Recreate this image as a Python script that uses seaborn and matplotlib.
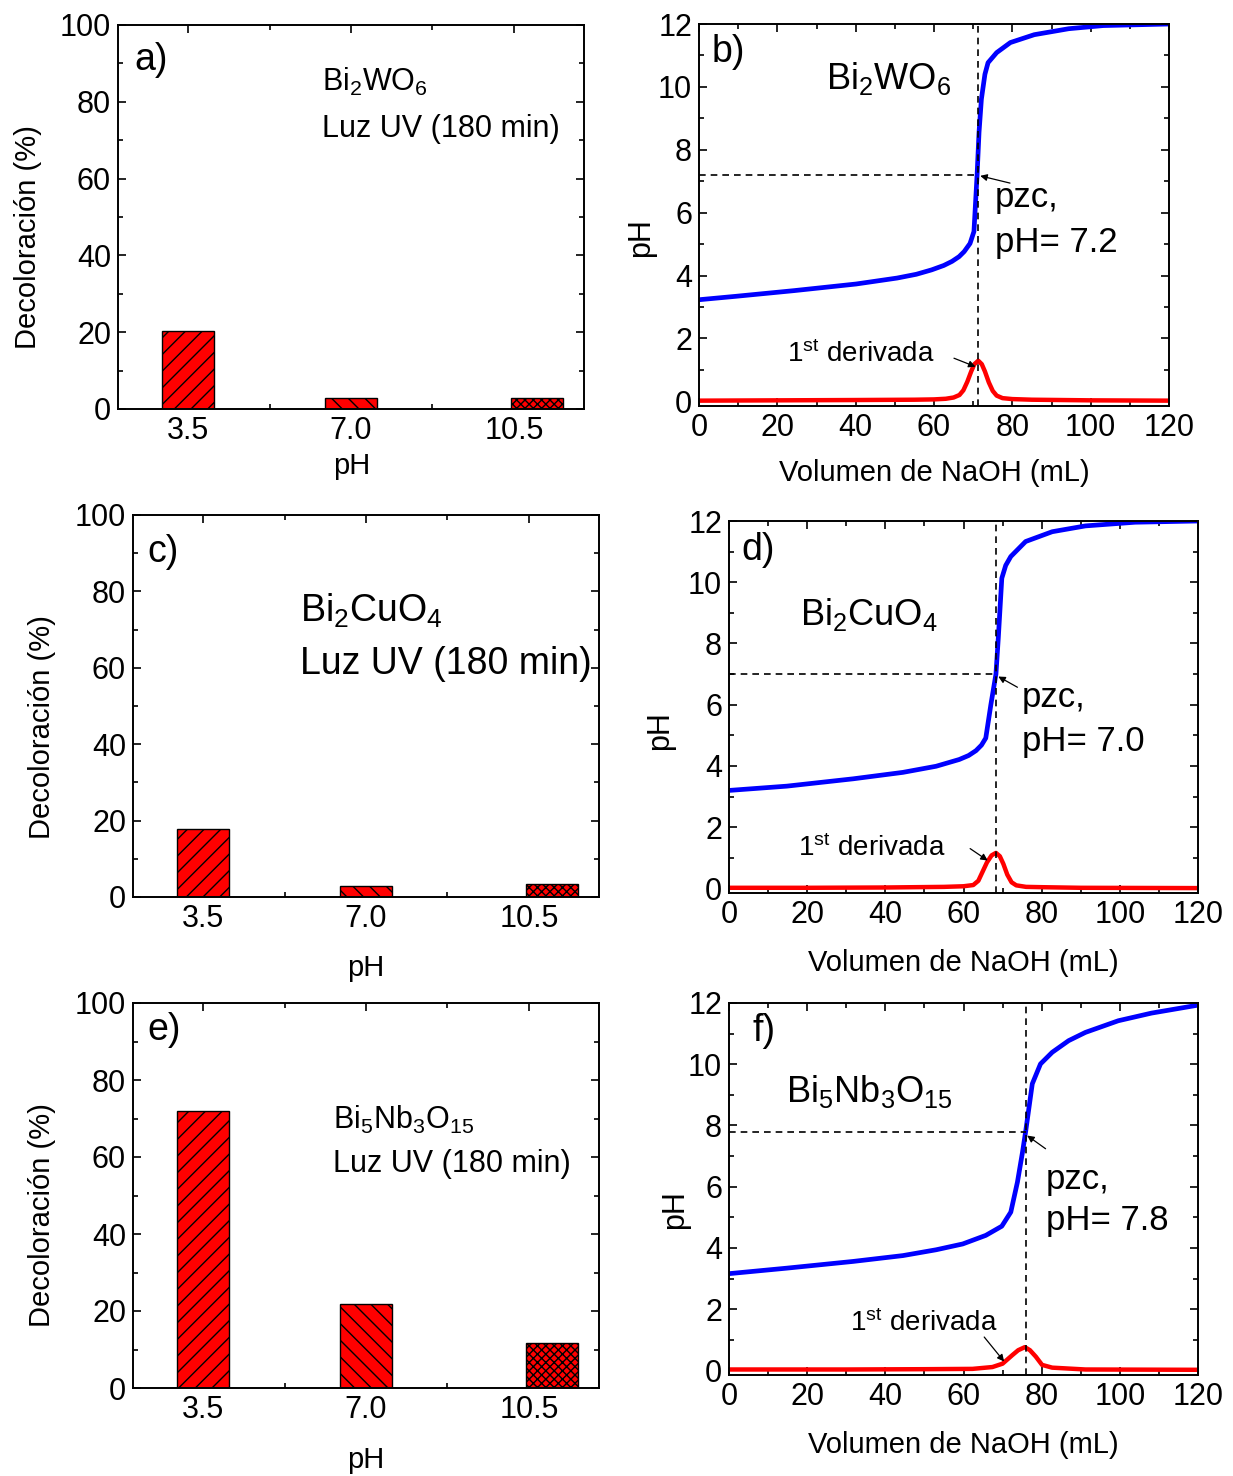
import numpy as np
import pandas as pd
import seaborn as sns
import matplotlib
matplotlib.use("Agg")
import matplotlib.pyplot as plt
from matplotlib.ticker import MultipleLocator

# ---------------- data ----------------
ph_categories = ["3.5", "7.0", "10.5"]

decol_bi2wo6 = [20.3, 2.9, 2.8]
decol_bi2cuo4 = [17.8, 2.9, 3.4]
decol_bi5nb3o15 = [72.0, 21.8, 11.7]

# titration curves: Bi2WO6
vol_bi2wo6 = [0, 9.5, 24.3, 40.1, 50.6, 55.5, 59.4, 62.5, 64.6, 66.4, 67.7, 69.2, 70.2,
              71.0, 71.5, 72.1, 73.0, 73.8, 76.0, 79.5, 85.6, 94.4, 103.2, 120]
ph_bi2wo6 = [3.23, 3.34, 3.52, 3.73, 3.92, 4.04, 4.18, 4.32, 4.45, 4.6, 4.76, 5.02,
             5.40, 7.2, 8.56, 9.61, 10.4, 10.77, 11.09, 11.41, 11.66, 11.85, 11.95, 12.0]
dvol_bi2wo6 = [0, 20, 40, 55, 60, 63, 65, 66.5, 67.5, 68.5, 69.5, 70.3, 71.3, 72.2,
               73.0, 74.0, 75.0, 76.0, 77.5, 80, 85, 100, 120]
deriv_bi2wo6 = [0.02, 0.03, 0.04, 0.05, 0.06, 0.08, 0.12, 0.2, 0.35, 0.62, 0.95, 1.18,
                1.29, 1.18, 0.95, 0.6, 0.33, 0.18, 0.1, 0.07, 0.05, 0.03, 0.02]

# titration curves: Bi2CuO4
vol_bi2cuo4 = [0, 14.8, 31.8, 44.5, 53, 58.9, 61.3, 63.2, 64.6, 65.7, 67.0, 68.3, 68.9,
               69.8, 70.8, 72.1, 75.9, 82.7, 91.2, 103.9, 120]
ph_bi2cuo4 = [3.2, 3.34, 3.58, 3.79, 3.99, 4.21, 4.34, 4.5, 4.68, 4.91, 6.0, 7.0, 8.17,
              10.13, 10.55, 10.84, 11.33, 11.65, 11.84, 11.96, 12.0]
dvol_bi2cuo4 = [0, 20, 40, 55, 60, 62.5, 63.8, 64.9, 66.0, 67.2, 68.3, 69.3, 70.2,
                71.2, 72.3, 73.5, 76, 80, 90, 120]
deriv_bi2cuo4 = [0.02, 0.02, 0.03, 0.05, 0.07, 0.11, 0.25, 0.55, 0.85, 1.08, 1.16,
                 1.05, 0.8, 0.45, 0.2, 0.1, 0.05, 0.04, 0.02, 0.01]

# titration curves: Bi5Nb3O15
vol_bi5nb3o15 = [0, 14.8, 31.8, 44.5, 53, 59.8, 65.7, 69.8, 72.1, 73.8, 75.1, 75.9,
                 77.6, 79.7, 82.7, 86.9, 91.2, 99.6, 108.1, 120]
ph_bi5nb3o15 = [3.16, 3.34, 3.56, 3.75, 3.94, 4.13, 4.41, 4.71, 5.17, 6.15, 7.13, 7.8,
                9.36, 10.01, 10.39, 10.77, 11.04, 11.42, 11.67, 11.93]
dvol_bi5nb3o15 = [0, 30, 50, 62.3, 67.4, 70.0, 72.5, 74.0, 75.7, 77.0, 78.5, 80.1,
                  82.7, 91.2, 120]
deriv_bi5nb3o15 = [0.03, 0.03, 0.04, 0.05, 0.11, 0.22, 0.5, 0.66, 0.76, 0.66, 0.45,
                   0.18, 0.09, 0.03, 0.02]

pzc_values = [7.2, 7.0, 7.8]
pzc_volumes = [71.3, 68.4, 75.9]

# ---------------- style ----------------
sns.set_theme(style="ticks")
plt.rcParams["font.family"] = ["Liberation Sans", "DejaVu Sans"]
plt.rcParams["mathtext.default"] = "regular"
plt.rcParams["hatch.linewidth"] = 1.0
plt.rcParams["axes.linewidth"] = 1.4
plt.rcParams["axes.edgecolor"] = "black"
plt.rcParams["text.color"] = "black"
plt.rcParams["axes.labelcolor"] = "black"
plt.rcParams["xtick.color"] = "black"
plt.rcParams["ytick.color"] = "black"

W, H = 1233, 1476
fig = plt.figure(figsize=(W / 100, H / 100), dpi=100)


def add_axes(left, top, right, bottom):
    return fig.add_axes([left / W, 1 - bottom / H, (right - left) / W, (bottom - top) / H])


def style_ticks(ax, fs=22):
    ax.tick_params(which="both", direction="in", top=True, right=True,
                   colors="black", labelcolor="black", labelsize=fs, pad=5, width=1.2)
    ax.tick_params(which="major", length=6)
    ax.tick_params(which="minor", length=3.5)
    for s in ax.spines.values():
        s.set_linewidth(1.4)
        s.set_color("black")


def bar_panel(ax, values, letter, formula, ftxt_pos, luz_pos, fs_txt, lab_pos):
    df = pd.DataFrame({"pH": ph_categories, "val": values})
    sns.barplot(data=df, x="pH", y="val", order=ph_categories, ax=ax, color="red",
                saturation=1, width=0.32, edgecolor="black", linewidth=1.0)
    hatches = ["//", "\\\\", "xxxx"]
    for p, h in zip(ax.patches, hatches):
        p.set_hatch(h)
        p.set_facecolor("red")
        p.set_edgecolor("black")
    # third bar sits to the right of its tick
    ax.patches[2].set_x(ax.patches[2].get_x() + 0.14)
    ax.set_xlim(-0.43, 2.43)
    ax.set_ylim(0, 100)
    ax.yaxis.set_major_locator(MultipleLocator(20))
    ax.yaxis.set_minor_locator(MultipleLocator(10))
    ax.xaxis.set_minor_locator(MultipleLocator(0.5))
    style_ticks(ax)
    ax.set_xlabel("pH", fontsize=21)
    ax.set_ylabel("Decoloración (%)", fontsize=21)
    ax.xaxis.label.set_va("center")
    ax.yaxis.label.set_va("center")
    ax.xaxis.set_label_coords(*lab_pos[0])
    ax.yaxis.set_label_coords(*lab_pos[1])
    ax.text(letter[1], letter[2], letter[0], transform=ax.transAxes, fontsize=27,
            ha="left", va="center")
    ax.text(ftxt_pos[0], ftxt_pos[1], formula, transform=ax.transAxes, fontsize=fs_txt,
            ha="left", va="center")
    ax.text(luz_pos[0], luz_pos[1], "Luz UV (180 min)", transform=ax.transAxes,
            fontsize=fs_txt, ha="left", va="center")


def titration_panel(ax, vol, ph, dvol, deriv, pzc_v, pzc_ph, letter, formula, txt,
                    arrows, lab_pos):
    sns.lineplot(x=vol, y=ph, ax=ax, color="#0000ff", lw=3.4, sort=False,
                 estimator=None)
    sns.lineplot(x=dvol, y=deriv, ax=ax, color="#ff0000", lw=3.2, sort=False,
                 estimator=None)
    ax.axvline(pzc_v, color="black", lw=1.2, ls=(0, (4, 3)), zorder=3)
    ax.plot([0, pzc_v], [pzc_ph, pzc_ph], color="black", lw=1.2, ls=(0, (4, 3)),
            zorder=3)
    ax.set_xlim(0, 120)
    ax.set_ylim(-0.15, 12)
    ax.xaxis.set_major_locator(MultipleLocator(20))
    ax.xaxis.set_minor_locator(MultipleLocator(10))
    ax.yaxis.set_major_locator(MultipleLocator(2))
    ax.yaxis.set_minor_locator(MultipleLocator(1))
    style_ticks(ax)
    ax.set_xlabel("Volumen de NaOH (mL)", fontsize=21)
    ax.set_ylabel("pH", fontsize=22)
    ax.xaxis.label.set_va("center")
    ax.yaxis.label.set_va("center")
    ax.xaxis.set_label_coords(*lab_pos[0])
    ax.yaxis.set_label_coords(*lab_pos[1])
    ax.text(letter[1], letter[2], letter[0], fontsize=27, ha="left", va="center")
    ax.text(formula[1], formula[2], formula[0], fontsize=26, ha="left", va="center")
    ax.text(txt["pzc"][0], txt["pzc"][1], "pzc,", fontsize=25, ha="left", va="center")
    ax.text(txt["pzc"][0], txt["ph"], f"pH= {pzc_ph:.1f}", fontsize=25, ha="left",
            va="center")
    ax.text(txt["der"][0], txt["der"][1], "1$^{st}$ derivada", fontsize=20,
            ha="left", va="center")
    for tail, tip in arrows:
        ax.annotate("", xy=tip, xytext=tail,
                    arrowprops=dict(arrowstyle="-|>", color="black", lw=0.9,
                                    mutation_scale=10, shrinkA=0, shrinkB=0))


ax_a = add_axes(118, 25, 584, 409)
bar_panel(ax_a, decol_bi2wo6, ("a)", 0.036, 0.909), "Bi$_2$WO$_6$", (0.438, 0.852),
          (0.438, 0.729), 22, ((0.502, -0.148), (-0.193, 0.448)))

ax_c = add_axes(133, 515, 599, 897)
bar_panel(ax_c, decol_bi2cuo4, ("c)", 0.03, 0.903), "Bi$_2$CuO$_4$", (0.358, 0.749),
          (0.358, 0.61), 27, ((0.5, -0.186), (-0.195, 0.445)))

ax_e = add_axes(133, 1003, 599, 1388)
bar_panel(ax_e, decol_bi5nb3o15, ("e)", 0.03, 0.93), "Bi$_5$Nb$_3$O$_{15}$",
          (0.429, 0.696), (0.429, 0.582), 22, ((0.5, -0.187), (-0.195, 0.449)))

ax_b = add_axes(699, 24, 1169, 406)
titration_panel(ax_b, vol_bi2wo6, ph_bi2wo6, dvol_bi2wo6, deriv_bi2wo6,
                pzc_volumes[0], pzc_values[0], ("b)", 3.3, 11.1),
                ("Bi$_2$WO$_6$", 32.4, 10.27),
                {"pzc": (75.6, 6.47), "ph": 5.05, "der": (22.5, 1.5)},
                [((79.4, 6.94), (71.8, 7.17)), ((65.1, 1.37), (70.6, 1.1))],
                ((0.5, -0.175), (-0.123, 0.44)))

ax_d = add_axes(729, 521, 1198, 893)
titration_panel(ax_d, vol_bi2cuo4, ph_bi2cuo4, dvol_bi2cuo4, deriv_bi2cuo4,
                pzc_volumes[1], pzc_values[1], ("d)", 3.1, 11.06),
                ("Bi$_2$CuO$_4$", 18.2, 8.95),
                {"pzc": (75.0, 6.25), "ph": 4.8, "der": (17.6, 1.32)},
                [((73.8, 6.57), (68.9, 6.92)), ((61.7, 1.3), (66.2, 0.91))],
                ((0.5, -0.188), (-0.147, 0.438)))

ax_f = add_axes(729, 1003, 1198, 1375)
titration_panel(ax_f, vol_bi5nb3o15, ph_bi5nb3o15, dvol_bi5nb3o15, deriv_bi5nb3o15,
                pzc_volumes[2], pzc_values[2], ("f)", 5.9, 11.1),
                ("Bi$_5$Nb$_3$O$_{15}$", 14.6, 9.1),
                {"pzc": (81.0, 6.24), "ph": 4.88, "der": (31.0, 1.53)},
                [((81.0, 7.24), (76.3, 7.67)), ((65.3, 1.09), (70.4, 0.29))],
                ((0.5, -0.188), (-0.115, 0.444)))

fig.savefig("out.png", dpi=100, facecolor="white")
